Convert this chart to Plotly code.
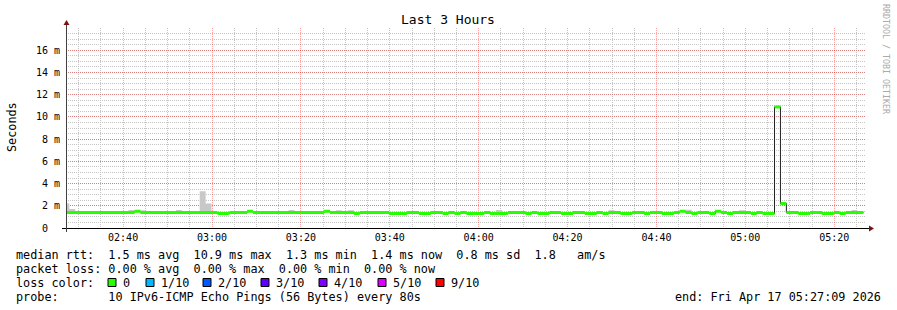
import plotly.graph_objects as go
import pandas as pd

# ---------------- data ----------------
step_start = "2026-04-17 02:26:34"      # start of first (partial) 80 s step
step_freq = "80s"
x_range = ["2026-04-17 02:27:09", "2026-04-17 05:27:09"]

# median RTT per 80 s step, in milliseconds
median_ms = [
    1.4, 1.4, 1.4, 1.4, 1.4, 1.4, 1.4, 1.4, 1.4, 1.4,
    1.4, 1.4, 1.5, 1.4, 1.4, 1.4, 1.4, 1.4, 1.4, 1.4,
    1.4, 1.4, 1.4, 1.4, 1.4, 1.4, 1.3, 1.3, 1.4, 1.4,
    1.4, 1.5, 1.4, 1.4, 1.4, 1.4, 1.4, 1.4, 1.4, 1.4,
    1.4, 1.4, 1.4, 1.4, 1.5, 1.4, 1.4, 1.4, 1.4, 1.3,
    1.4, 1.4, 1.4, 1.4, 1.4, 1.3, 1.3, 1.3, 1.4, 1.4,
    1.3, 1.3, 1.4, 1.4, 1.3, 1.4, 1.3, 1.4, 1.3, 1.3,
    1.3, 1.4, 1.3, 1.3, 1.3, 1.4, 1.4, 1.4, 1.3, 1.4,
    1.3, 1.3, 1.4, 1.4, 1.3, 1.3, 1.4, 1.4, 1.3, 1.3,
    1.4, 1.3, 1.4, 1.4, 1.3, 1.3, 1.4, 1.4, 1.3, 1.4,
    1.4, 1.3, 1.3, 1.4, 1.5, 1.4, 1.3, 1.4, 1.4, 1.3,
    1.5, 1.4, 1.3, 1.4, 1.4, 1.4, 1.3, 1.4, 1.3, 1.3,
    10.9, 2.2, 1.4, 1.4, 1.3, 1.3, 1.4, 1.4, 1.3, 1.3,
    1.4, 1.3, 1.4, 1.4, 1.4,
]

# steps where the smoke (max ping) shows above the median, ms
smoke_idx = [0, 1, 11, 13, 19, 23, 24, 38, 46, 48, 73, 92, 105, 114, 133]
smoke_max_ms = [2.2, 1.7, 1.62, 1.6, 1.62, 3.3, 2.2, 1.62, 1.6, 1.6, 1.62, 1.6, 1.65, 1.6, 1.62]

y_tickvals = [0, 2, 4, 6, 8, 10, 12, 14, 16]
y_ticktext = ["0\u00a0\u00a0", "2\u00a0m", "4\u00a0m", "6\u00a0m", "8\u00a0m",
              "10\u00a0m", "12\u00a0m", "14\u00a0m", "16\u00a0m"]

loss_labels = ["0", "1/10", "2/10", "3/10", "4/10", "5/10", "9/10"]
loss_colors = ["#26ff00", "#00b8ff", "#0059ff", "#5e00ff", "#7e00ff", "#dd00ff", "#ff0000"]

legend_lines = [
    "median rtt:  1.5 ms avg  10.9 ms max  1.3 ms min  1.4 ms now  0.8 ms sd  1.8   am/s",
    "packet loss: 0.00 % avg  0.00 % max  0.00 % min  0.00 % now",
    "loss color:",
    "probe:       10 IPv6-ICMP Echo Pings (56 Bytes) every 80s",
]
end_text = "end: Fri Apr 17 05:27:09 2026"
title_text = "Last 3 Hours"
y_title = "Seconds"
watermark = "RRDTOOL / TOBI OETIKER"

# ---------------- build ----------------
n = len(median_ms)
t = pd.date_range(step_start, periods=n + 1, freq=step_freq)
med = median_ms + [median_ms[-1]]
smoke = list(median_ms)
for i, v in zip(smoke_idx, smoke_max_ms):
    smoke[i] = v
smoke = smoke + [smoke[-1]]

band_half = 0.135
FONT = "DejaVu Sans Mono"
W, H = 897, 310
ML, MR, MT, MB = 66, 31, 28, 82
PW, PH = W - ML - MR, H - MT - MB


def px(xpix):
    return (xpix - ML) / PW


def py(ypix):
    return (H - MB - ypix) / PH


fig = go.Figure()
# smoke
fig.add_trace(go.Scatter(x=t, y=med, mode="lines", line=dict(width=0, shape="hv"),
                         hoverinfo="skip", showlegend=False))
fig.add_trace(go.Scatter(x=t, y=smoke, mode="lines", line=dict(width=0, shape="hv"),
                         fill="tonexty", fillcolor="#c8c8c8", hoverinfo="skip", showlegend=False))
# black median line
fig.add_trace(go.Scatter(x=t, y=med, mode="lines", line=dict(width=1, color="#202020", shape="hv"),
                         hoverinfo="skip", showlegend=False))
# loss-coloured band (loss 0 everywhere)
fig.add_trace(go.Scatter(x=t, y=[v - band_half for v in med], mode="lines",
                         line=dict(width=0, shape="hv"), hoverinfo="skip", showlegend=False))
fig.add_trace(go.Scatter(x=t, y=[v + band_half for v in med], mode="lines",
                         line=dict(width=0, shape="hv"), fill="tonexty", fillcolor=loss_colors[0],
                         hoverinfo="skip", showlegend=False))

major_grid = "rgba(255,0,0,0.35)"
minor_grid = "#c4c4c4"

fig.update_xaxes(
    type="date", range=x_range, tickformat="%H:%M",
    tick0="2026-04-17 02:40:00", dtick=20 * 60 * 1000,
    showgrid=True, gridcolor=major_grid, griddash="1px,1px", gridwidth=1,
    minor=dict(dtick=5 * 60 * 1000, tick0="2026-04-17 02:40:00", showgrid=True,
               gridcolor=minor_grid, griddash="1px,1px", gridwidth=1),
    showline=False, zeroline=False, ticks="", ticklabelstandoff=2,
    tickfont=dict(family=FONT, size=10, color="#000"),
)
fig.update_yaxes(
    range=[0, 18], tickvals=y_tickvals, ticktext=y_ticktext,
    showgrid=True, gridcolor=major_grid, griddash="1px,1px", gridwidth=1,
    minor=dict(dtick=0.5, tick0=0, showgrid=True, gridcolor=minor_grid,
               griddash="1px,1px", gridwidth=1),
    showline=False, zeroline=False, ticks="", ticklabelstandoff=5,
    tickfont=dict(family=FONT, size=10, color="#000"),
)

shapes = []
axis_col = "#000000"
arrow_col = "#7f1010"
# x axis line and arrow
shapes.append(dict(type="line", xref="paper", yref="paper", x0=px(62), x1=px(870),
                   y0=py(228.5), y1=py(228.5), line=dict(color=axis_col, width=1)))
shapes.append(dict(type="path", xref="paper", yref="paper",
                   path=f"M {px(874)},{py(228.5)} L {px(869)},{py(225.5)} L {px(869)},{py(231.5)} Z",
                   fillcolor=arrow_col, line=dict(color=arrow_col, width=0)))
# y axis line and arrow
shapes.append(dict(type="line", xref="paper", yref="paper", x0=px(66.5), x1=px(66.5),
                   y0=py(232), y1=py(24), line=dict(color="#404040", width=1)))
shapes.append(dict(type="path", xref="paper", yref="paper",
                   path=f"M {px(66.5)},{py(20)} L {px(63.5)},{py(25)} L {px(69.5)},{py(25)} Z",
                   fillcolor=arrow_col, line=dict(color=arrow_col, width=0)))

annotations = []
line_y = [254.5, 268.5, 282.5, 296.5]
for txt, yy in zip(legend_lines, line_y):
    annotations.append(dict(xref="paper", yref="paper", x=px(14), y=py(yy), xanchor="left",
                            yanchor="middle", showarrow=False, text=txt.replace(" ", "\u00a0"),
                            font=dict(family=FONT, size=11.8, color="#000")))
swatch_left = [108, 146, 203, 261, 319, 378, 436]
for lbl, col, sx in zip(loss_labels, loss_colors, swatch_left):
    shapes.append(dict(type="rect", xref="paper", yref="paper", x0=px(sx), x1=px(sx + 8),
                       y0=py(286.5), y1=py(278.5), fillcolor=col,
                       line=dict(color="#000", width=1)))
    annotations.append(dict(xref="paper", yref="paper", x=px(sx + 12.5), y=py(282.5),
                            xanchor="left", yanchor="middle", showarrow=False, text=lbl,
                            font=dict(family=FONT, size=11.8, color="#000")))
annotations.append(dict(xref="paper", yref="paper", x=px(883), y=py(296.5), xanchor="right",
                        yanchor="middle", showarrow=False, text=end_text.replace(" ", "\u00a0"),
                        font=dict(family=FONT, size=11.8, color="#000")))
annotations.append(dict(xref="paper", yref="paper", x=px(12), y=py(127), xanchor="center",
                        yanchor="middle", showarrow=False, text=y_title, textangle=-90,
                        font=dict(family=FONT, size=11.8, color="#000")))
annotations.append(dict(xref="paper", yref="paper", x=px(886), y=py(59), xanchor="center",
                        yanchor="middle", showarrow=False, text=watermark.replace(" ", "\u00a0"),
                        textangle=90, font=dict(family=FONT, size=8.3, color="#aaaaaa")))

fig.update_layout(
    width=W, height=H, margin=dict(l=ML, r=MR, t=MT, b=MB),
    paper_bgcolor="#ffffff", plot_bgcolor="#ffffff",
    title=dict(text=title_text, x=448 / W, xref="container", xanchor="center",
               y=1 - 19 / H, yref="container", yanchor="middle",
               font=dict(family=FONT, size=13, color="#000")),
    shapes=shapes, annotations=annotations, showlegend=False, hovermode=False,
)

fig.write_html("out.html", config={"displayModeBar": False})
